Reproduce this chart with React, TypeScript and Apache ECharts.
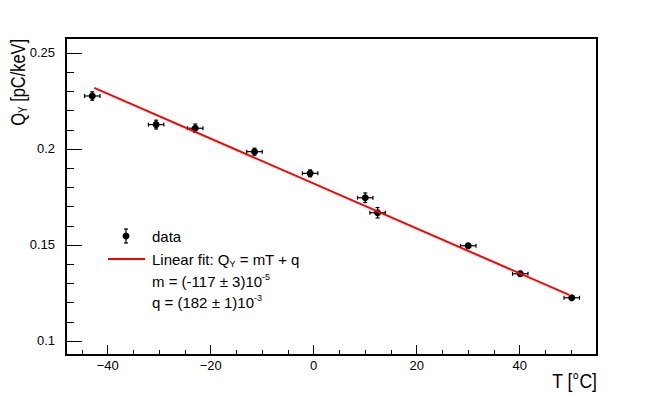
import React, { useEffect, useRef } from "react";
import * as echarts from "echarts";

// Data
const tempC = [-43.0, -30.6, -23.0, -11.5, -0.7, 10.0, 12.4, 30.0, 40.1, 50.1];
const qY = [0.2276, 0.2127, 0.2108, 0.1986, 0.1873, 0.1746, 0.1668, 0.1496, 0.135, 0.1225];
const tErr = [1.5, 1.5, 1.5, 1.5, 1.5, 1.5, 1.5, 1.5, 1.5, 1.5];
const qErr = [0.0022, 0.0023, 0.0022, 0.0018, 0.0018, 0.0025, 0.0027, 0.0012, 0.0013, 0.001];

// Fit line end points (fit range)
const fitT = [-42.6, 49.6];
const fitQ = [0.2318, 0.124];

// Axis ticks
const xTicks = [-40, -20, 0, 20, 40];
const xMinorTicks = [-45, -35, -30, -25, -15, -10, -5, 5, 10, 15, 25, 30, 35, 45, 50, 55];
const yTicks = [0.1, 0.15, 0.2, 0.25];
const yMinorTicks = [0.11, 0.12, 0.13, 0.14, 0.16, 0.17, 0.18, 0.19, 0.21, 0.22, 0.23, 0.24];

const FONT = "'Liberation Sans', Arial, Helvetica, sans-serif";

export default function App() {
  const ref = useRef<HTMLDivElement>(null);
  useEffect(() => {
    if (!ref.current) return;
    const chart = echarts.init(ref.current, undefined, { renderer: "svg" });
    const xMin = -48.1, xMax = 55.0, yMin = 0.0927, yMax = 0.2578;
    const errData = tempC.map((t, i) => [t, qY[i], tErr[i], qErr[i]]);
    const fitData = fitT.map((t, i) => [t, fitQ[i]]);
    const tickStyle = { color: "#000", width: 1 };
    const noLine = { show: false, onZero: false };
    const option: any = {
      animation: false,
      backgroundColor: "#fff",
      grid: {
        left: 66, right: 67, top: 38, bottom: 40,
        show: true, borderColor: "#000", borderWidth: 2, backgroundColor: "transparent",
      },
      xAxis: [
        {
          type: "value", min: xMin, max: xMax, position: "bottom",
          axisLine: noLine,
          splitLine: { show: false },
          axisTick: { show: true, inside: true, length: 10, customValues: xTicks, lineStyle: tickStyle },
          axisLabel: {
            customValues: xTicks, color: "#000", fontSize: 13, fontFamily: FONT, margin: 4,
            formatter: (v: number) => (v < 0 ? "\u2212" + Math.abs(v) : String(v)),
          },
        },
        {
          type: "value", min: xMin, max: xMax, position: "bottom",
          axisLine: noLine, splitLine: { show: false },
          axisLabel: { show: false },
          axisTick: { show: true, inside: true, length: 5, customValues: xMinorTicks, lineStyle: tickStyle },
        },
      ],
      yAxis: [
        {
          type: "value", min: yMin, max: yMax, position: "left",
          axisLine: noLine,
          splitLine: { show: false },
          axisTick: { show: true, inside: true, length: 16, customValues: yTicks, lineStyle: tickStyle },
          axisLabel: {
            customValues: yTicks, color: "#000", fontSize: 13, fontFamily: FONT, margin: 11,
            formatter: (v: number) => String(+v.toFixed(3)),
          },
        },
        {
          type: "value", min: yMin, max: yMax, position: "left",
          axisLine: noLine, splitLine: { show: false },
          axisLabel: { show: false },
          axisTick: { show: true, inside: true, length: 8, customValues: yMinorTicks, lineStyle: tickStyle },
        },
      ],
      series: [
        {
          type: "custom",
          xAxisIndex: 0, yAxisIndex: 0,
          data: errData,
          z: 3,
          renderItem: (_p: any, api: any) => {
            const x = api.value(0), y = api.value(1), ex = api.value(2), ey = api.value(3);
            const c = api.coord([x, y]);
            const l = api.coord([x - ex, y]);
            const r = api.coord([x + ex, y]);
            const t = api.coord([x, y + ey]);
            const b = api.coord([x, y - ey]);
            const cap = 2;
            const st = { stroke: "#000", lineWidth: 1.2 };
            return {
              type: "group",
              children: [
                { type: "line", shape: { x1: l[0], y1: l[1], x2: r[0], y2: r[1] }, style: st },
                { type: "line", shape: { x1: t[0], y1: t[1], x2: b[0], y2: b[1] }, style: st },
                { type: "line", shape: { x1: l[0], y1: l[1] - cap, x2: l[0], y2: l[1] + cap }, style: st },
                { type: "line", shape: { x1: r[0], y1: r[1] - cap, x2: r[0], y2: r[1] + cap }, style: st },
                { type: "line", shape: { x1: t[0] - cap, y1: t[1], x2: t[0] + cap, y2: t[1] }, style: st },
                { type: "line", shape: { x1: b[0] - cap, y1: b[1], x2: b[0] + cap, y2: b[1] }, style: st },
                { type: "circle", shape: { cx: c[0], cy: c[1], r: 3.5 }, style: { fill: "#000" } },
              ],
            };
          },
        },
        {
          type: "line",
          xAxisIndex: 0, yAxisIndex: 0,
          data: fitData,
          showSymbol: false,
          symbol: "none",
          z: 4,
          lineStyle: { color: "#ff0000", width: 2 },
        },
      ],
      graphic: [
        {
          type: "text", x: 18, y: 39, rotation: Math.PI / 2, scaleX: 0.82,
          style: {
            text: "{a|Q}{s|Y}{a| [pC/keV]}",
            align: "right", verticalAlign: "middle", fill: "#000",
            rich: {
              a: { fontSize: 20, fontFamily: FONT, fill: "#000", lineHeight: 22, verticalAlign: "middle" },
              s: { fontSize: 12, fontFamily: FONT, fill: "#000", lineHeight: 22, verticalAlign: "bottom" },
            },
          },
        },
        {
          type: "text", x: 597, y: 381, scaleX: 0.88,
          style: { text: "T [\u00B0C]", align: "right", verticalAlign: "middle", fontSize: 20, fontFamily: FONT, fill: "#000" },
        },
        // legend: data marker
        { type: "line", shape: { x1: 126, y1: 229, x2: 126, y2: 243 }, style: { stroke: "#000", lineWidth: 1.2 } },
        { type: "line", shape: { x1: 124, y1: 229, x2: 128, y2: 229 }, style: { stroke: "#000", lineWidth: 1.2 } },
        { type: "line", shape: { x1: 124, y1: 243, x2: 128, y2: 243 }, style: { stroke: "#000", lineWidth: 1.2 } },
        { type: "circle", shape: { cx: 126, cy: 236, r: 3.5 }, style: { fill: "#000" } },
        { type: "line", shape: { x1: 108, y1: 259, x2: 145, y2: 259 }, style: { stroke: "#ff0000", lineWidth: 2 } },
        {
          type: "text", x: 152, y: 236,
          style: { text: "data", verticalAlign: "middle", fontSize: 15, fontFamily: FONT, fill: "#000" },
        },
        {
          type: "text", x: 152, y: 259,
          style: {
            text: "{a|Linear fit: Q}{s|Y}{a| = mT + q}",
            verticalAlign: "middle", fill: "#000",
            rich: {
              a: { fontSize: 15, fontFamily: FONT, fill: "#000", lineHeight: 18, verticalAlign: "middle" },
              s: { fontSize: 9, fontFamily: FONT, fill: "#000", lineHeight: 18, verticalAlign: "bottom" },
            },
          },
        },
        {
          type: "text", x: 152, y: 281,
          style: {
            text: "{a|m = (-117 \u00B1 3)10}{s|-5}",
            verticalAlign: "middle", fill: "#000",
            rich: {
              a: { fontSize: 15, fontFamily: FONT, fill: "#000", lineHeight: 18, verticalAlign: "middle" },
              s: { fontSize: 9, fontFamily: FONT, fill: "#000", lineHeight: 18, verticalAlign: "top" },
            },
          },
        },
        {
          type: "text", x: 152, y: 302,
          style: {
            text: "{a|q = (182 \u00B1 1)10}{s|-3}",
            verticalAlign: "middle", fill: "#000",
            rich: {
              a: { fontSize: 15, fontFamily: FONT, fill: "#000", lineHeight: 18, verticalAlign: "middle" },
              s: { fontSize: 9, fontFamily: FONT, fill: "#000", lineHeight: 18, verticalAlign: "top" },
            },
          },
        },
      ],
    };
    chart.setOption(option);
    return () => chart.dispose();
  }, []);
  return <div ref={ref} style={{ width: 664, height: 395, position: "absolute", left: 0, top: 0 }} />;
}
